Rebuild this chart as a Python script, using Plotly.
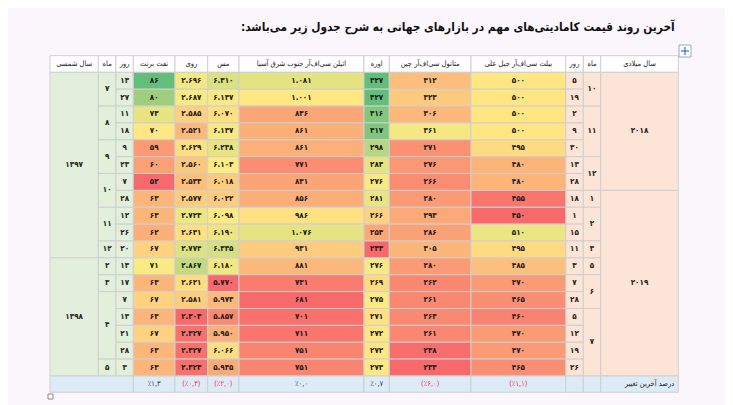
import plotly.graph_objects as go
from plotly.colors import sample_colorscale

# تاریخ شمسی
sal_shamsi = [1397] * 11 + [1398] * 7
mah_shamsi = [7, 7, 8, 8, 9, 9, 10, 10, 11, 11, 12, 2, 3, 4, 4, 4, 4, 5]
rooz_shamsi = [13, 27, 11, 18, 9, 23, 7, 28, 12, 26, 20, 13, 17, 7, 13, 21, 28, 3]

# قیمت ها
naft_brent = [86, 80, 73, 70, 59, 60, 52, 63, 63, 62, 67, 71, 63, 67, 63, 67, 63, 63]
roy = [2696, 2687, 2585, 2521, 2629, 2560, 2533, 2577, 2723, 2631, 2774, 2867, 2621, 2581, 2303, 2327, 2327, 2323]
mes = [6310, 6137, 6070, 6137, 6238, 6103, 6018, 6022, 6098, 6190, 6335, 6180, 5770, 5973, 5857, 5950, 6066, 5935]
etilen = [1081, 1001, 836, 861, 861, 771, 831, 856, 986, 1076, 931, 881, 731, 681, 701, 711, 751, 751]
ureh = [327, 327, 316, 317, 298, 283, 276, 281, 266, 253, 233, 276, 269, 275, 271, 272, 272, 273]
metanol = [312, 323, 306, 361, 271, 276, 266, 280, 293, 286, 305, 280, 262, 261, 263, 261, 238, 233]
bilet = [500, 500, 500, 500, 495, 480, 480, 455, 450, 510, 495, 485, 470, 465, 460, 470, 470, 465]

# تاریخ میلادی
rooz_miladi = [5, 19, 2, 9, 30, 13, 28, 18, 1, 15, 11, 3, 7, 28, 5, 12, 19, 26]
mah_miladi = [10, 10, 11, 11, 11, 12, 12, 1, 2, 2, 3, 5, 6, 6, 7, 7, 7, 7]
sal_miladi = [2018] * 7 + [2019] * 11

# درصد آخرین تغییر (نفت، روی، مس، اتیلن، اوره، متانول، بیلت)
taghir = [1.3, -0.3, -2.0, 0.0, 0.7, -6.0, -1.1]

sarsotoon = ["سال شمسی", "ماه", "روز", "نفت برنت", "روی", "مس",
             "اتیلن سی‌اف‌آر جنوب شرق آسیا", "اوره", "متانول سی‌اف‌آر چین",
             "بیلت سی‌اف‌آر جبل علی", "روز", "ماه", "سال میلادی"]
onvan = "آخرین روند قیمت کامادیتی‌های مهم در بازارهای جهانی به شرح جدول زیر می‌باشد:\u200f"
barchasb_taghir = "درصد آخرین تغییر"

# ظاهر جدول
FONT = "DejaVu Sans Condensed, DejaVu Sans"
BG = "#fbf6fb"
GRID = "#cfcfcf"
SHAMSI_FILL = "#e2efda"
MILADI_FILL = "#fce4d6"
FOOT_FILL = "#ddebf7"
SCALE = [[0, "#f8696b"], [0.5, "#ffeb84"], [1, "#63be7b"]]
OFF = 8  # حاشیه پیش فرض صفحه

col_w = [48.3, 17.7, 17.3, 41.7, 32.7, 31.3, 125, 25.3, 81.7, 94.7, 17.6, 17.4, 77.6]
x_left = 50
top = 55.7
head_h = 16.6
row_h = 16.87
foot_h = 16.3

edges = [x_left]
for w in col_w:
    edges.append(edges[-1] + w)

n = len(naft_brent)


def fa(s):
    return str(s).translate(str.maketrans("0123456789", "۰۱۲۳۴۵۶۷۸۹"))


def hezar(v):
    return fa(f"{v:,}".replace(",", "."))


def row_y(i):
    return top + head_h + i * row_h


def runs(vals):
    out = []
    start = 0
    for i in range(1, len(vals) + 1):
        if i == len(vals) or vals[i] != vals[start]:
            out.append((start, i, vals[start]))
            start = i
    return out


def rang(v, lo, mid, hi):
    if v <= mid:
        t = 0.5 * (v - lo) / (mid - lo)
    else:
        t = 0.5 + 0.5 * (v - mid) / (hi - mid)
    t = min(max(t, 0), 1)
    return sample_colorscale(SCALE, [t])[0]


shapes = []
tx, ty, tt, tc = [], [], [], []
hx, hy, ht = [], [], []
fx, fy, ft, fc = [], [], [], []


def cell(c0, c1, y0, y1, fill):
    shapes.append(dict(type="rect", x0=edges[c0], x1=edges[c1], y0=y0, y1=y1,
                       fillcolor=fill, line=dict(color=GRID, width=1), layer="below"))


# سرستون
for c, h in enumerate(sarsotoon):
    cell(c, c + 1, top, top + head_h, "#ffffff")
    hx.append((edges[c] + edges[c + 1]) / 2)
    hy.append(top + head_h / 2)
    ht.append(h)

# ستون های تاریخ (با ادغام)
date_cols = [(0, sal_shamsi, SHAMSI_FILL, True), (1, mah_shamsi, SHAMSI_FILL, True),
             (2, rooz_shamsi, SHAMSI_FILL, False), (10, rooz_miladi, MILADI_FILL, False),
             (11, mah_miladi, MILADI_FILL, True), (12, sal_miladi, MILADI_FILL, True)]
for c, vals, fill, merge in date_cols:
    groups = runs(vals) if merge else [(i, i + 1, v) for i, v in enumerate(vals)]
    for a, b, v in groups:
        cell(c, c + 1, row_y(a), row_y(b), fill)
        tx.append((edges[c] + edges[c + 1]) / 2)
        ty.append((row_y(a) + row_y(b)) / 2)
        tt.append(fa(v))
        tc.append("#222222")

# ستون های قیمت با طیف رنگی
price_cols = [(3, naft_brent, fa, (52, 70.5, 86)),
              (4, roy, hezar, (2303, 2660, 3200)),
              (5, mes, hezar, (5770, 6100, 7000)),
              (6, etilen, hezar, (681, 1010, 1400)),
              (7, ureh, fa, (233, 274, 327)),
              (8, metanol, fa, (233, 355, 450)),
              (9, bilet, fa, (450, 502, 565))]
for c, vals, fmt, (lo, mid, hi) in price_cols:
    for i, v in enumerate(vals):
        cell(c, c + 1, row_y(i), row_y(i + 1), rang(v, lo, mid, hi))
        tx.append((edges[c] + edges[c + 1]) / 2)
        ty.append(row_y(i) + row_h / 2)
        tt.append(fmt(v))
        tc.append("#1a1a1a")

# ردیف پایانی
fy0 = row_y(n)
fy1 = fy0 + foot_h
cell(0, 3, fy0, fy1, FOOT_FILL)
for k, v in enumerate(taghir):
    c = 3 + k
    cell(c, c + 1, fy0, fy1, FOOT_FILL)
    s = "٪" + fa(f"{abs(v):.1f}".replace(".", ","))
    if v < 0:
        s = "(" + s + ")"
    fx.append((edges[c] + edges[c + 1]) / 2)
    fy.append((fy0 + fy1) / 2)
    ft.append(s)
    fc.append("#ff2a55" if v < 0 else "#2a3a6a")
cell(10, 11, fy0, fy1, FOOT_FILL)
cell(11, 12, fy0, fy1, FOOT_FILL)
cell(12, 13, fy0, fy1, FOOT_FILL)

# حاشیه سفید بالای صفحه و نشانگرها
shapes.append(dict(type="rect", x0=55, x1=678, y0=0, y1=5, fillcolor="#ffffff",
                   line=dict(width=0), layer="below"))
shapes.append(dict(type="rect", x0=679, x1=691, y0=45, y1=57, fillcolor="#ffffff",
                   line=dict(color="#9aa8c8", width=1)))
shapes.append(dict(type="line", x0=681, x1=689, y0=51, y1=51, line=dict(color="#3a6fc0", width=1.2)))
shapes.append(dict(type="line", x0=685, x1=685, y0=47, y1=55, line=dict(color="#3a6fc0", width=1.2)))
shapes.append(dict(type="rect", x0=48, x1=53, y0=394, y1=399, fillcolor="#ffffff",
                   line=dict(color="#888888", width=1)))

fig = go.Figure()
fig.add_trace(go.Scatter(x=hx, y=hy, text=ht, mode="text", hoverinfo="skip",
                         textfont=dict(family=FONT, size=7.5, color="#222222")))
fig.add_trace(go.Scatter(x=tx, y=ty, text=tt, mode="text", hoverinfo="skip",
                         textfont=dict(family=FONT, size=8, color=tc, weight="bold")))
fig.add_trace(go.Scatter(x=fx, y=fy, text=ft, mode="text", hoverinfo="skip",
                         textfont=dict(family=FONT, size=7.5, color=fc)))
fig.add_trace(go.Scatter(x=[edges[13] - 4], y=[(fy0 + fy1) / 2], text=[barchasb_taghir],
                         mode="text", textposition="middle left", hoverinfo="skip",
                         textfont=dict(family=FONT, size=7.5, color="#222222")))

fig.add_annotation(x=677, y=27, xref="x", yref="y", text="<b>" + onvan + "</b>",
                   showarrow=False, xanchor="right", yanchor="middle",
                   font=dict(family=FONT, size=11.8, color="#111111"))

fig.update_layout(
    width=733, height=405, autosize=False,
    margin=dict(l=0, r=0, t=0, b=0),
    paper_bgcolor=BG, plot_bgcolor=BG,
    showlegend=False, shapes=shapes,
    xaxis=dict(range=[OFF, 733 + OFF], visible=False, fixedrange=True),
    yaxis=dict(range=[405 + OFF, OFF], visible=False, fixedrange=True),
)

fig.write_html("out.html")
